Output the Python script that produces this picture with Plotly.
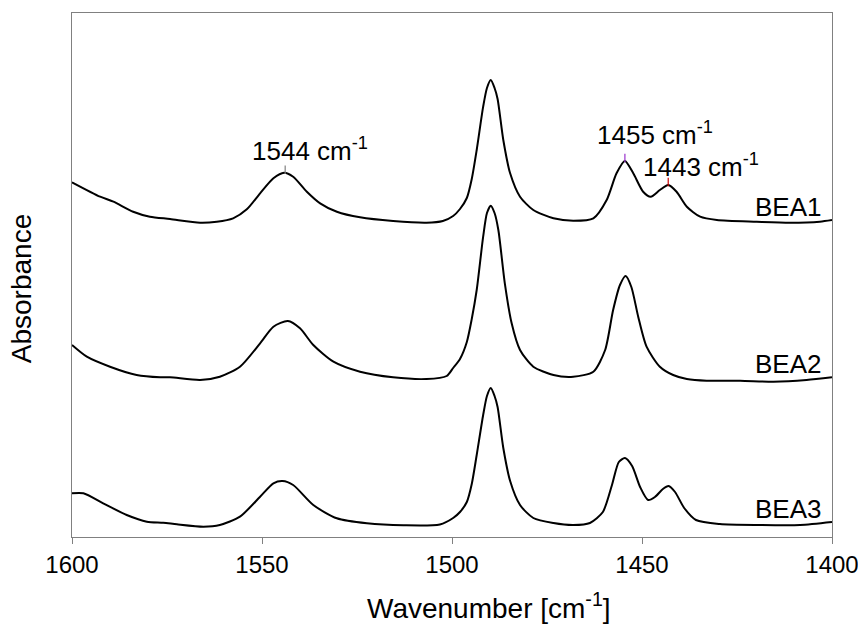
import plotly.graph_objects as go

# ---- data ----
bea1_wn = [1600.0, 1592.6, 1589.1, 1583.9, 1579.5, 1574.2, 1566.3, 1561.9, 1557.6, 1554.0,
           1550.5, 1547.0, 1544.2, 1541.8, 1538.2, 1534.7, 1530.3, 1524.2, 1515.5, 1506.7,
           1502.4, 1499.7, 1497.9, 1496.1, 1494.8, 1493.5, 1491.8, 1490.8, 1489.8, 1488.8,
           1488.0, 1486.5, 1484.7, 1482.1, 1478.6, 1473.3, 1468.1, 1462.8, 1459.3, 1456.7,
           1454.5, 1452.3, 1449.7, 1447.7, 1445.3, 1443.1, 1440.9, 1438.2, 1434.7, 1430.3,
           1419.8, 1411.1, 1403.2, 1400.0]
bea1_abs = [3.547, 3.403, 3.353, 3.253, 3.203, 3.180, 3.143, 3.153, 3.187, 3.277,
            3.437, 3.587, 3.643, 3.603, 3.453, 3.337, 3.253, 3.197, 3.160, 3.143,
            3.160, 3.210, 3.280, 3.390, 3.580, 3.870, 4.303, 4.490, 4.570, 4.490,
            4.380, 3.970, 3.637, 3.403, 3.270, 3.187, 3.163, 3.187, 3.370, 3.637,
            3.760, 3.637, 3.453, 3.403, 3.470, 3.520, 3.453, 3.303, 3.203, 3.170,
            3.153, 3.143, 3.153, 3.170]

bea2_wn = [1600.0, 1596.1, 1590.0, 1583.0, 1576.8, 1574.2, 1566.3, 1561.1, 1555.8, 1550.5,
           1547.0, 1543.2, 1540.0, 1536.5, 1531.2, 1524.2, 1515.5, 1506.7, 1501.4, 1499.7,
           1497.9, 1496.1, 1494.8, 1493.5, 1491.8, 1490.8, 1489.8, 1488.8, 1487.8, 1486.1,
           1484.3, 1482.1, 1478.6, 1473.3, 1468.1, 1462.8, 1459.7, 1457.6, 1455.8, 1454.3,
           1452.8, 1451.0, 1448.8, 1445.3, 1441.8, 1438.2, 1433.0, 1424.2, 1415.4, 1406.7,
           1400.0]
bea2_abs = [1.920, 1.803, 1.703, 1.620, 1.597, 1.597, 1.570, 1.603, 1.703, 1.937,
            2.103, 2.160, 2.087, 1.920, 1.753, 1.653, 1.597, 1.580, 1.610, 1.690,
            1.780, 1.950, 2.180, 2.470, 3.003, 3.240, 3.313, 3.240, 3.070, 2.537,
            2.137, 1.870, 1.703, 1.620, 1.603, 1.653, 1.870, 2.270, 2.520, 2.610,
            2.500, 2.203, 1.903, 1.703, 1.620, 1.580, 1.563, 1.563, 1.553, 1.570,
            1.597]

bea3_wn = [1600.0, 1597.0, 1591.8, 1585.6, 1580.3, 1576.0, 1572.4, 1565.4, 1561.1, 1555.8,
           1550.5, 1547.0, 1544.6, 1541.8, 1536.5, 1530.3, 1522.4, 1512.8, 1503.2, 1499.7,
           1497.9, 1496.1, 1494.8, 1493.5, 1491.8, 1490.8, 1489.8, 1488.8, 1488.0, 1486.5,
           1484.7, 1482.1, 1478.6, 1473.3, 1468.1, 1463.7, 1460.3, 1457.9, 1456.1, 1454.5,
           1452.6, 1450.5, 1448.4, 1446.6, 1444.5, 1443.0, 1441.3, 1438.9, 1435.8, 1429.5,
           1418.9, 1408.4, 1400.0]
bea3_abs = [0.437, 0.437, 0.337, 0.220, 0.153, 0.143, 0.127, 0.103, 0.120, 0.203,
            0.403, 0.537, 0.560, 0.520, 0.320, 0.187, 0.137, 0.117, 0.125, 0.190,
            0.250, 0.350, 0.530, 0.820, 1.220, 1.410, 1.490, 1.410, 1.300, 0.890,
            0.560, 0.320, 0.190, 0.140, 0.120, 0.140, 0.250, 0.520, 0.750, 0.790,
            0.710, 0.500, 0.370, 0.400, 0.480, 0.510, 0.450, 0.290, 0.170, 0.130,
            0.120, 0.120, 0.150]

series_names = ["BEA1", "BEA2", "BEA3"]

peak_labels = ["1544 cm<sup>-1</sup>", "1455 cm<sup>-1</sup>", "1443 cm<sup>-1</sup>"]
peak_wn = [1543.9, 1454.5, 1443.1]
peak_abs = [3.643, 3.760, 3.520]
peak_colors = ["#808080", "#9933cc", "#cc0000"]

x_ticks = [1600, 1550, 1500, 1450, 1400]

FONT = "Arial, Liberation Sans, sans-serif"

fig = go.Figure()
for wn, ab in [(bea1_wn, bea1_abs), (bea2_wn, bea2_abs), (bea3_wn, bea3_abs)]:
    fig.add_trace(go.Scatter(x=wn, y=ab, mode="lines",
                             line=dict(color="black", width=2, shape="spline", smoothing=0.7),
                             showlegend=False, hoverinfo="skip"))

# small peak markers
fig.add_trace(go.Scatter(x=peak_wn, y=[a + 0.03 for a in peak_abs], mode="markers",
                         marker=dict(symbol="line-ns", size=6,
                                     line=dict(color=peak_colors, width=1.2)),
                         showlegend=False, hoverinfo="skip"))

# peak labels
label_shift = [(-35, 23), (-30, 28), (-27, 20)]
for txt, wn, ab, (dx, dy) in zip(peak_labels, peak_wn, peak_abs, label_shift):
    fig.add_annotation(x=wn, y=ab, text=txt, showarrow=False, xanchor="left",
                       yanchor="middle", xshift=dx, yshift=dy,
                       font=dict(family=FONT, size=26, color="black"))

# series labels
for name, wn, ab in [("BEA1", bea1_wn, bea1_abs), ("BEA2", bea2_wn, bea2_abs),
                     ("BEA3", bea3_wn, bea3_abs)]:
    fig.add_annotation(x=wn[-1], y=ab[-1], text=name, showarrow=False, xanchor="right",
                       yanchor="middle", xshift=-8, yshift=13,
                       font=dict(family=FONT, size=26, color="black"))

# axis titles as annotations
fig.add_annotation(x=-0.067, y=0.473, xref="paper", yref="paper", text="Absorbance",
                   showarrow=False, textangle=-90, xanchor="center", yanchor="middle",
                   font=dict(family=FONT, size=28, color="black"))
fig.add_annotation(x=0.549, y=-0.1317, xref="paper", yref="paper",
                   text="Wavenumber [cm<sup>-1</sup>]",
                   showarrow=False, xanchor="center", yanchor="middle",
                   font=dict(family=FONT, size=28, color="black"))

fig.update_layout(
    width=858, height=624,
    margin=dict(l=72, r=26, t=13, b=87, autoexpand=False),
    paper_bgcolor="white", plot_bgcolor="white",
    font=dict(family=FONT, size=24, color="black"),
    xaxis=dict(range=[1600, 1400], tickvals=x_ticks, ticks="outside", ticklen=6,
               tickcolor="#808080", showline=True, linecolor="#808080", linewidth=1.3,
               mirror=True, showgrid=False, zeroline=False, ticklabeloverflow="allow",
               automargin=False,
               tickfont=dict(family=FONT, size=24, color="black")),
    yaxis=dict(range=[0, 5.24], showticklabels=False, ticks="", showline=True,
               linecolor="#808080", linewidth=1.3, mirror=True, showgrid=False,
               zeroline=False, automargin=False),
)

fig.write_html("out.html", config={"displayModeBar": False},
               post_script="document.body.style.margin='0';")
